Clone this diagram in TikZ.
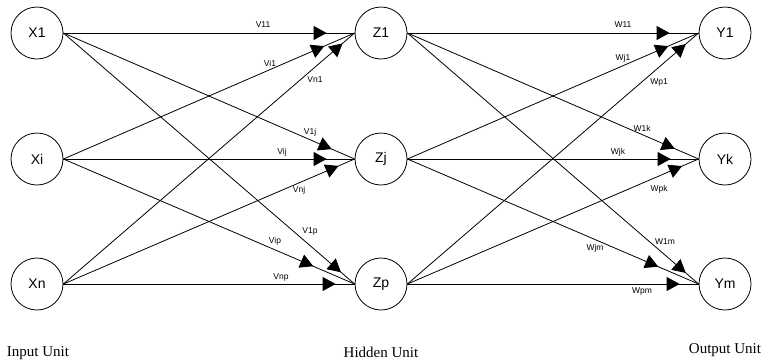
\documentclass[tikz,border=0pt]{standalone}
\usepackage{fontspec}
\setmainfont{Liberation Serif}
\newfontfamily\arialfont{Liberation Sans}
\usetikzlibrary{arrows.meta,decorations.markings}

\tikzset{
  unit/.style={circle, draw, line width=0.8pt, minimum size=52pt, inner sep=0pt,
    font=\arialfont\fontsize{14}{14}\selectfont},
  wlabel/.style={font=\arialfont\fontsize{8.5}{9}\selectfont, inner sep=0pt},
  layerlabel/.style={font=\fontsize{15}{15}\selectfont, inner sep=0pt},
  link/.style={line width=0.8pt, postaction={decorate},
    decoration={markings,
      mark=at position -#1pt with {\arrow{Triangle[length=13pt,width=14pt]}}}},
}

\begin{document}
\begin{tikzpicture}[x=1pt, y=-1pt]
  \useasboundingbox (0,0) rectangle (767,362);

  % input layer
  \node[unit] (X1) at (37,33)  {X1};
  \node[unit] (Xi) at (37,159) {Xi};
  \node[unit] (Xn) at (37,284) {Xn};
  % hidden layer
  \node[unit] (Z1) at (381,33)  {Z1};
  \node[unit] (Zj) at (381,159) {Zj};
  \node[unit] (Zp) at (381,284) {Zp};
  % output layer
  \node[unit] (Y1) at (725,33)  {Y1};
  \node[unit] (Yk) at (725,159) {Yk};
  \node[unit] (Ym) at (725,284) {Ym};

  % input -> hidden weights
  \draw[link=28] (X1.east) -- (Z1.west);
  \draw[link=33] (Xi.east) -- (Z1.west);
  \draw[link=16] (Xn.east) -- (Z1.west);
  \draw[link=25] (X1.east) -- (Zj.west);
  \draw[link=28] (Xi.east) -- (Zj.west);
  \draw[link=17.5] (Xn.east) -- (Zj.west);
  \draw[link=18] (X1.east) -- (Zp.west);
  \draw[link=45] (Xi.east) -- (Zp.west);
  \draw[link=19] (Xn.east) -- (Zp.west);

  % hidden -> output weights
  \draw[link=29] (Z1.east) -- (Y1.west);
  \draw[link=33] (Zj.east) -- (Y1.west);
  \draw[link=17] (Zp.east) -- (Y1.west);
  \draw[link=26] (Z1.east) -- (Yk.west);
  \draw[link=28] (Zj.east) -- (Yk.west);
  \draw[link=18] (Zp.east) -- (Yk.west);
  \draw[link=17] (Z1.east) -- (Ym.west);
  \draw[link=44] (Zj.east) -- (Ym.west);
  \draw[link=19] (Zp.east) -- (Ym.west);

  % weight labels
  \node[wlabel] (v11) at (263,25)  {V11};
  \node[wlabel] (vi1) at (270,63)  {Vi1};
  \node[wlabel] (vn1) at (315,80)  {Vn1};
  \node[wlabel] (v1j) at (310,132) {V1j};
  \node[wlabel] (vij) at (282,152) {Vij};
  \node[wlabel] (vnj) at (299,190) {Vnj};
  \node[wlabel] (v1p) at (310,231) {V1p};
  \node[wlabel] (vip) at (275,241) {Vip};
  \node[wlabel] (vnp) at (281,277) {Vnp};

  \node[wlabel] (w11) at (623,25)  {W11};
  \node[wlabel] (wj1) at (623,58)  {Wj1};
  \node[wlabel] (wp1) at (659,82)  {Wp1};
  \node[wlabel] (w1k) at (642,128) {W1k};
  \node[wlabel] (wjk) at (618,152) {Wjk};
  \node[wlabel] (wpk) at (659,189) {Wpk};
  \node[wlabel] (w1m) at (665,242) {W1m};
  \node[wlabel] (wjm) at (595,248) {Wjm};
  \node[wlabel] (wpm) at (642,291) {Wpm};

  % layer captions
  \node[layerlabel] (lin)  at (38,353)  {Input Unit};
  \node[layerlabel] (lhid) at (381,352) {Hidden Unit};
  \node[layerlabel] (lout) at (725,350) {Output Unit};
\end{tikzpicture}
\end{document}
